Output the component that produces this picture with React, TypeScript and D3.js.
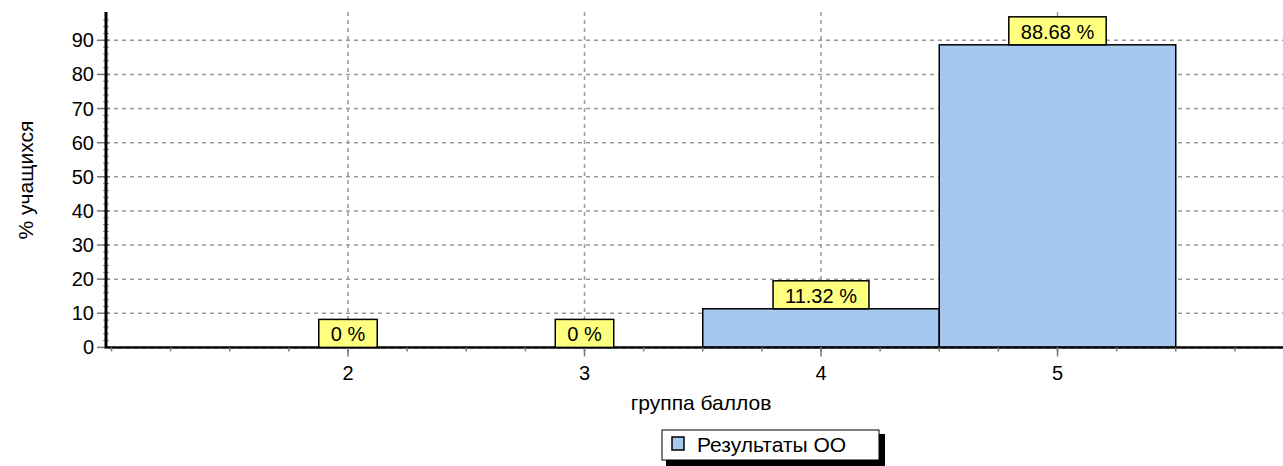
import React, { useMemo } from "react";
import * as d3 from "d3";

// chart data
const categories = [2, 3, 4, 5];
const values = [0, 0, 11.32, 88.68];
const yTicks = [0, 10, 20, 30, 40, 50, 60, 70, 80, 90];
const seriesName = "Результаты ОО";
const yTitle = "% учащихся";
const xTitle = "группа баллов";

const WIDTH = 1283;
const HEIGHT = 466;
const AXIS_X = 106;
const AXIS_TOP = 12;
const FONT = "Arial, 'Liberation Sans', sans-serif";
const FONT_SIZE = 20;

const BAR_FILL = "#a6c8ee";
const LABEL_FILL = "#ffff80";
const GRID = "#999";

function textWidth(str: string) {
  const c = document.createElement("canvas").getContext("2d");
  if (!c) return str.length * 10;
  c.font = `${FONT_SIZE}px Arial`;
  return c.measureText(str).width;
}

const App = () => {
  const xScale = useMemo(
    () => d3.scaleLinear().domain([2, 3]).range([348, 584.5]),
    []
  );
  const yScale = useMemo(
    () => d3.scaleLinear().domain([0, 98.3]).range([347.4, AXIS_TOP]),
    []
  );
  const bandW = xScale(3) - xScale(2);
  const y0 = yScale(0);

  const minorX = d3.range(1, 6.01, 0.25).filter((v) => xScale(v) >= AXIS_X && xScale(v) <= WIDTH);
  const minorY = d3.range(0, 98, 2);

  const fmt = (v: number) => (v === 0 ? "0 %" : `${v.toFixed(2)} %`);

  return (
    <svg
      width={WIDTH}
      height={HEIGHT}
      style={{ position: "absolute", left: 0, top: 0, background: "#fff" }}
      fontFamily={FONT}
      fontSize={FONT_SIZE}
    >
      {/* horizontal grid */}
      {yTicks.filter((t) => t > 0).map((t) => (
        <line
          key={"hg" + t}
          x1={AXIS_X}
          x2={WIDTH}
          y1={yScale(t)}
          y2={yScale(t)}
          stroke={GRID}
          strokeWidth={1.5}
          strokeDasharray="4,4"
        />
      ))}
      {/* vertical grid */}
      {categories.map((c) => (
        <line
          key={"vg" + c}
          x1={xScale(c)}
          x2={xScale(c)}
          y1={AXIS_TOP}
          y2={y0}
          stroke={GRID}
          strokeWidth={1.5}
          strokeDasharray="4,4"
        />
      ))}

      {/* bars */}
      {categories.map((c, i) =>
        values[i] > 0 ? (
          <rect
            key={"b" + c}
            x={xScale(c) - bandW / 2}
            y={yScale(values[i])}
            width={bandW}
            height={y0 - yScale(values[i])}
            fill={BAR_FILL}
            stroke="#000"
            strokeWidth={1.5}
          />
        ) : null
      )}

      {/* y axis */}
      {minorY.map((t) => (
        <line key={"my" + t} x1={AXIS_X - 3} x2={AXIS_X + 3} y1={yScale(t)} y2={yScale(t)} stroke="#888" strokeWidth={1} />
      ))}
      {yTicks.map((t) => (
        <g key={"yt" + t}>
          <line x1={AXIS_X - 9} x2={AXIS_X + 4} y1={yScale(t)} y2={yScale(t)} stroke="#777" strokeWidth={1.5} />
          <text x={AXIS_X - 12} y={yScale(t)} textAnchor="end" dominantBaseline="central" fill="#000">
            {t}
          </text>
        </g>
      ))}
      <line x1={AXIS_X} x2={AXIS_X} y1={AXIS_TOP} y2={y0 + 1} stroke="#000" strokeWidth={3} />

      {/* x axis */}
      <line x1={AXIS_X} x2={WIDTH} y1={y0} y2={y0} stroke="#000" strokeWidth={2.5} />
      <line x1={AXIS_X} x2={WIDTH} y1={y0 + 1} y2={y0 + 1} stroke="#555" strokeWidth={1} strokeDasharray="4,4" />
      {minorX.map((v) => (
        <line key={"mx" + v} x1={xScale(v)} x2={xScale(v)} y1={y0} y2={y0 + 4} stroke="#777" strokeWidth={1.5} />
      ))}
      {categories.map((c) => (
        <g key={"xt" + c}>
          <line x1={xScale(c)} x2={xScale(c)} y1={y0} y2={y0 + 9} stroke="#777" strokeWidth={1.5} />
          <text x={xScale(c)} y={373} textAnchor="middle" dominantBaseline="central" fill="#000">
            {c}
          </text>
        </g>
      ))}

      {/* value labels */}
      {categories.map((c, i) => {
        const label = fmt(values[i]);
        const w = textWidth(label) + 24;
        const h = 28;
        const cx = xScale(c);
        const bottom = yScale(values[i]);
        return (
          <g key={"l" + c}>
            <rect x={cx - w / 2} y={bottom - h} width={w} height={h} fill={LABEL_FILL} stroke="#000" strokeWidth={1.5} />
            <text x={cx} y={bottom - h / 2 + 1} textAnchor="middle" dominantBaseline="central" fill="#000">
              {label}
            </text>
          </g>
        );
      })}

      {/* axis titles */}
      <text x={701} y={402} textAnchor="middle" dominantBaseline="central" fill="#000" fontSize={21}>
        {xTitle}
      </text>
      <text
        transform={`translate(25,180) rotate(-90)`}
        textAnchor="middle"
        dominantBaseline="central"
        fill="#000"
        fontSize={21}
      >
        {yTitle}
      </text>

      {/* legend */}
      <g>
        <rect x={666} y={434} width={219} height={32} fill="#000" />
        <rect x={662} y={430} width={217} height={30} fill="#fff" stroke="#000" strokeWidth={1} />
        <rect x={672} y={437} width={12} height={13} fill={BAR_FILL} stroke="#000" strokeWidth={1.5} />
        <text x={697} y={444} dominantBaseline="central" fill="#000" fontSize={21}>
          {seriesName}
        </text>
      </g>
    </svg>
  );
};

export default App;
